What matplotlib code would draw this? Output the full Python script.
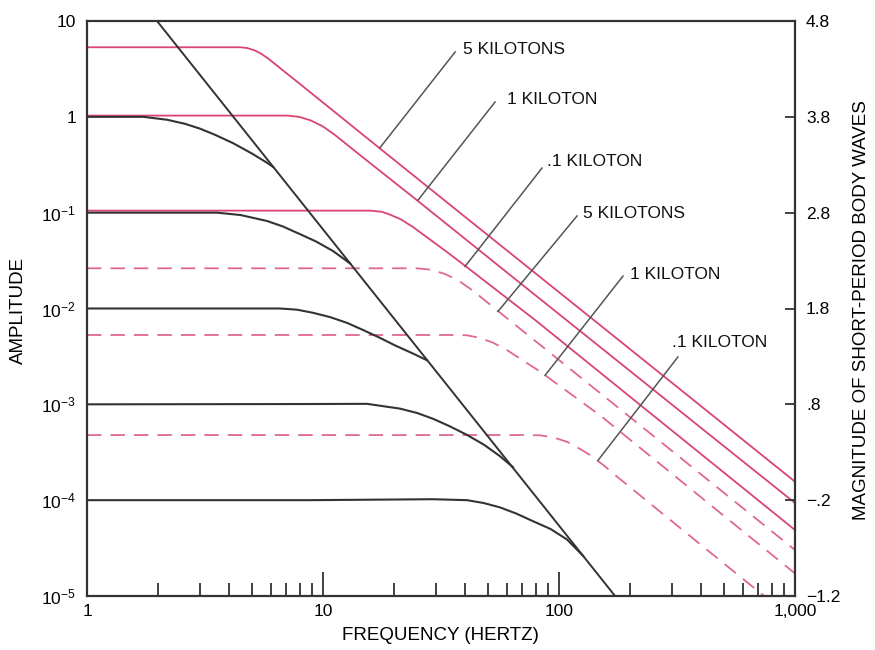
import matplotlib
matplotlib.use("Agg")
import matplotlib.pyplot as plt
from matplotlib.ticker import FixedLocator, NullLocator, NullFormatter

plt.rcParams["font.family"] = ["Liberation Sans", "DejaVu Sans"]
plt.rcParams["mathtext.fontset"] = "custom"
plt.rcParams["mathtext.rm"] = "Liberation Sans"

# --- source spectra (red, solid): frequency (Hz), amplitude
kt5_f = [1, 3, 4.45, 4.76, 5.11, 5.47, 5.86, 7.99, 11.03, 17.4, 34.5, 100, 300, 1000]
kt5_a = [5.32, 5.32, 5.32, 5.23, 4.96, 4.56, 4.05, 2.2, 1.16, 0.469, 0.121, 0.0148, 1.69e-3, 1.56e-4]
kt1_f = [1, 5, 7.06, 7.91, 8.88, 9.97, 11.18, 15.36, 25, 60, 150, 400, 1000]
kt1_a = [1.03, 1.03, 1.03, 1.0, 0.917, 0.796, 0.653, 0.349, 0.135, 0.0239, 3.93e-3, 5.67e-4, 9.34e-5]
kt01_f = [1, 10, 15.85, 17.8, 19.2, 21.4, 24.06, 27.5, 33.5, 40.8, 80, 200, 500, 1000]
kt01_a = [0.105, 0.105, 0.105, 0.102, 0.0955, 0.0851, 0.0708, 0.0556, 0.0389, 0.0269, 7.44e-3, 1.2e-3, 1.94e-4, 4.88e-5]

# dashed set
dkt5_f = [1, 20, 25.0, 28.7, 32.9, 37.8, 43.4, 54.6, 100, 250, 600, 1000]
dkt5_a = [0.02627, 0.02627, 0.02627, 0.02538, 0.02291, 0.0193, 0.0152, 9.6e-3, 2.9e-3, 4.72e-4, 8.31e-5, 3.02e-5]
dkt1_f = [1, 35, 40.8, 46, 52.5, 60, 68.4, 83.1, 150, 400, 1000]
dkt1_a = [5.29e-3, 5.29e-3, 5.25e-3, 4.95e-3, 4.4e-3, 3.7e-3, 3.0e-3, 2.2e-3, 7.6e-4, 1.07e-4, 1.72e-5]
dkt01_f = [1, 70, 83.1, 95, 108.1, 121, 135.3, 155, 176.1, 300, 500, 740]
dkt01_a = [4.78e-4, 4.78e-4, 4.75e-4, 4.5e-4, 4.07e-4, 3.5e-4, 2.96e-4, 2.3e-4, 1.76e-4, 6.06e-5, 2.18e-5, 1.0e-5]

# --- black curves and the straight envelope
env_f = [1.98, 172.8]
env_a = [10, 1e-5]
b1_f = [1, 1.73, 2.18, 2.6, 3.01, 3.5, 4.16, 5.0, 5.79, 6.16]
b1_a = [1.0, 1.0, 0.933, 0.846, 0.753, 0.647, 0.531, 0.414, 0.332, 0.299]
b2_f = [1, 3.56, 4.47, 5.79, 6.76, 7.99, 9.33, 11.03, 13.02]
b2_a = [0.1, 0.1, 0.0945, 0.0819, 0.0718, 0.0597, 0.0501, 0.0398, 0.0295]
b3_f = [1, 6.57, 7.76, 9.07, 10.72, 12.64, 14.8, 17.4, 20.4, 24.06, 27.6]
b3_a = [0.01, 0.01, 9.72e-3, 9.02e-3, 8.13e-3, 7.08e-3, 5.96e-3, 4.95e-3, 4.07e-3, 3.39e-3, 2.88e-3]
b4_f = [1, 7.99, 15.36, 21.2, 25, 29.2, 34.5, 40.8, 48, 56.2, 63.8]
b4_a = [1e-3, 1.007e-3, 1.012e-3, 9.02e-4, 8.13e-4, 7.08e-4, 5.89e-4, 4.79e-4, 3.8e-4, 2.88e-4, 2.21e-4]
b5_f = [1, 8.8, 29.2, 40.8, 48, 56.2, 66, 77.6, 92, 108.1, 126.4]
b5_a = [1e-4, 1e-4, 1.023e-4, 1e-4, 9.33e-5, 8.41e-5, 7.24e-5, 6.03e-5, 5.01e-5, 3.89e-5, 2.63e-5]

# axis ticks
x_ticks = [1, 10, 100, 1000]
x_labels = ["1", "10", "100", "1,000"]
y_ticks = [1e-5, 1e-4, 1e-3, 1e-2, 1e-1, 1, 10]
y_labels = [r"$\mathregular{10^{-5}}$", r"$\mathregular{10^{-4}}$", r"$\mathregular{10^{-3}}$",
            r"$\mathregular{10^{-2}}$", r"$\mathregular{10^{-1}}$", "1", "10"]
mag_ticks = [4.8, 3.8, 2.8, 1.8, 0.8, -0.2, -1.2]
mag_labels = ["4.8", "3.8", "2.8", "1.8", ".8", "\u2212.2", "\u22121.2"]

# labels: text, leader start (on curve), leader end, text anchor
notes = [
    ("5 KILOTONS", (17.4, 0.473), (36.3, 4.75), (39.2, 5.04)),
    ("1 KILOTON", (25.3, 0.1356), (53.6, 1.43), (60.2, 1.50)),
    (".1 KILOTON", (40.0, 0.0275), (84.7, 0.292), (89.0, 0.338)),
    ("5 KILOTONS", (55.1, 9.3e-3), (119.2, 0.0923), (126.4, 0.0992)),
    ("1 KILOTON", (87.2, 2.0e-3), (186.7, 0.0218), (200, 0.0229)),
    (".1 KILOTON", (146.3, 2.6e-4), (319, 3.12e-3), (301, 4.37e-3)),
]

RED = "#d9456f"
RED_D = "#e06890"
DARK = "#333333"

fig = plt.figure(figsize=(8.75, 6.5), dpi=100)
ax = fig.add_axes([87 / 875, 54 / 650, 708 / 875, 575 / 650])
ax.set_xscale("log")
ax.set_yscale("log")
ax.set_xlim(1, 1000)
ax.set_ylim(1e-5, 10)

for f, a in [(kt5_f, kt5_a), (kt1_f, kt1_a), (kt01_f, kt01_a)]:
    ax.plot(f, a, color=RED, lw=1.3, solid_joinstyle="round")
for f, a in [(dkt5_f, dkt5_a), (dkt1_f, dkt1_a), (dkt01_f, dkt01_a)]:
    ax.plot(f, a, color=RED_D, lw=1.3, dashes=(8, 5))

ax.plot(env_f, env_a, color=DARK, lw=1.4)
for f, a in [(b1_f, b1_a), (b2_f, b2_a), (b3_f, b3_a), (b4_f, b4_a), (b5_f, b5_a)]:
    ax.plot(f, a, color=DARK, lw=1.5, solid_joinstyle="round")

for txt, p0, p1, pt in notes:
    ax.plot([p0[0], p1[0]], [p0[1], p1[1]], color="#555555", lw=1.1)
    ax.text(pt[0], pt[1], txt, fontsize=12.5, ha="left", va="center", color="#111111")

for s in ax.spines.values():
    s.set_color(DARK)
    s.set_linewidth(1.6)

ax.set_xticks(x_ticks, x_labels)
ax.xaxis.set_minor_locator(FixedLocator(
    [m * d for d in (1, 10, 100) for m in range(2, 10)]))
ax.xaxis.set_minor_formatter(NullFormatter())
ax.tick_params(axis="x", which="major", direction="in", length=17, width=1.3,
               color=DARK, labelsize=12.5, pad=6, top=False)
ax.tick_params(axis="x", which="minor", direction="in", length=9.5, width=1.3,
               color=DARK, top=False)
ax.set_yticks(y_ticks, y_labels)
ax.yaxis.set_minor_locator(NullLocator())
ax.tick_params(axis="y", which="major", length=0, labelsize=12.5, pad=8)

ax2 = ax.twinx()
ax2.set_ylim(-1.2, 4.8)
ax2.set_yticks(mag_ticks, mag_labels)
ax2.tick_params(axis="y", direction="in", length=7, width=1.3, color=DARK,
                labelsize=12.5, pad=8)
for s in ax2.spines.values():
    s.set_visible(False)

fig.text(18 / 875, 1 - 310 / 650, "AMPLITUDE", rotation=90, ha="center",
         va="center", fontsize=13.5)
fig.text(862 / 875, 1 - 310 / 650, "MAGNITUDE OF SHORT-PERIOD BODY WAVES",
         rotation=90, ha="center", va="center", fontsize=13.5)
fig.text(440 / 875, 1 - 635 / 650, "FREQUENCY (HERTZ)", ha="center",
         va="center", fontsize=13.5)

fig.savefig("out.png", dpi=100, facecolor="white")
